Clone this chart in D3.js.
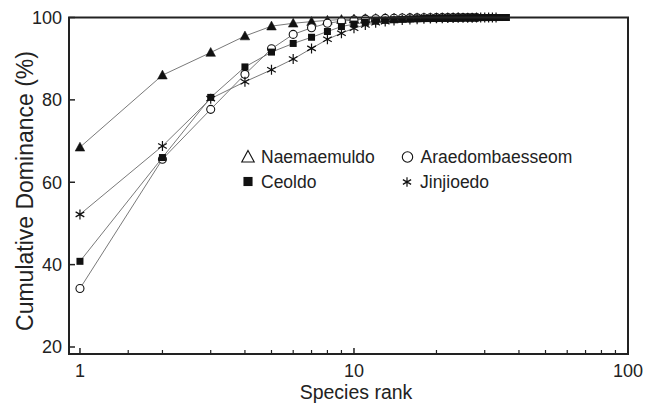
<!DOCTYPE html>
<html>
<head>
<meta charset="utf-8">
<script src="https://cdn.jsdelivr.net/npm/d3@7"></script>
<style>
  html, body { margin: 0; padding: 0; background: #fff; }
  svg { display: block; font-family: "Liberation Sans", Arial, sans-serif; }
</style>
</head>
<body>
<svg id="chart" width="654" height="408"></svg>
<script>
// ---- data ----
const seriesNames = ["Naemaemuldo", "Araedombaesseom", "Ceoldo", "Jinjioedo"];
const naemaemuldo = [68.5, 86.0, 91.5, 95.5, 97.9, 98.6, 99.0, 99.3, 99.5, 99.6, 99.7, 99.75, 99.8, 99.85, 99.88, 99.9, 99.92, 99.94, 99.95, 99.96, 99.97, 99.98, 99.99, 100];
const araedombaesseom = [34.2, 65.6, 77.7, 86.2, 92.4, 95.9, 97.5, 98.6, 99.1, 99.4, 99.6, 99.7, 99.78, 99.83, 99.87, 99.9, 99.92, 99.94, 99.95, 99.96, 99.97, 99.98, 99.985, 99.99, 99.993, 99.996, 99.998, 100];
const ceoldo = [40.8, 66.0, 80.6, 88.0, 91.6, 93.7, 95.2, 96.6, 97.8, 98.4, 98.8, 99.1, 99.3, 99.45, 99.55, 99.63, 99.7, 99.75, 99.8, 99.84, 99.87, 99.9, 99.92, 99.94, 99.95, 99.96, 99.97, 99.975, 99.98, 99.985, 99.99, 99.993, 99.995, 99.997, 99.999, 100];
const jinjioedo = [52.2, 68.8, 80.3, 84.4, 87.3, 89.9, 92.5, 94.7, 96.2, 97.4, 98.2, 98.7, 99.0, 99.25, 99.4, 99.5, 99.6, 99.68, 99.74, 99.8, 99.84, 99.87, 99.9, 99.92, 99.94, 99.95, 99.96, 99.97, 99.98, 99.985, 99.99, 99.995, 100];
const yTickValues = [20, 40, 60, 80, 100];
const xLabelValues = [1, 10, 100];
const xMinorTicks = [1.5, 2, 3, 4, 5, 6, 7, 8, 9, 20, 30, 40, 50, 60, 70, 80, 90];

// ---- layout ----
const svg = d3.select("#chart");
const L = 69, R = 628, T = 17.5, B = 354;
const x = d3.scaleLog().domain([0.912, 100]).range([L, R]);
const y = d3.scaleLinear().domain([18.3, 100]).range([B, T]);

const series = [
  { name: seriesNames[0], values: naemaemuldo, shape: "triangle" },
  { name: seriesNames[1], values: araedombaesseom, shape: "circle" },
  { name: seriesNames[2], values: ceoldo, shape: "square" },
  { name: seriesNames[3], values: jinjioedo, shape: "asterisk" }
];

const line = d3.line().x(d => x(d.r)).y(d => y(d.v));
const plot = svg.append("g");

// lines
series.forEach(s => {
  const pts = s.values.map((v, i) => ({ r: i + 1, v }));
  plot.append("path").datum(pts)
    .attr("d", line)
    .attr("fill", "none")
    .attr("stroke", "#6a6a6a")
    .attr("stroke-width", 0.9);
});

function drawMarker(g, shape, cx, cy, filled, k) {
  k = k || 1;
  if (shape === "triangle") {
    const s = 4.8 * k;
    g.append("path")
      .attr("d", `M${cx},${cy - s * 1.05} L${cx + s},${cy + s * 0.8} L${cx - s},${cy + s * 0.8} Z`)
      .attr("fill", filled ? "#111" : "#fff")
      .attr("stroke", "#111").attr("stroke-width", filled ? 0.5 : 1.1);
  } else if (shape === "circle") {
    g.append("circle").attr("cx", cx).attr("cy", cy).attr("r", 4 * k)
      .attr("fill", "#fff").attr("stroke", "#111").attr("stroke-width", 1.1);
  } else if (shape === "square") {
    const s = 3.5 * k;
    g.append("rect").attr("x", cx - s).attr("y", cy - s)
      .attr("width", 2 * s).attr("height", 2 * s).attr("fill", "#111");
  } else {
    const s = 5 * k;
    const a = s * Math.cos(Math.PI / 6), b = s * Math.sin(Math.PI / 6);
    g.append("path")
      .attr("d", `M${cx},${cy - s}L${cx},${cy + s}M${cx - a},${cy - b}L${cx + a},${cy + b}M${cx - a},${cy + b}L${cx + a},${cy - b}`)
      .attr("stroke", "#111").attr("stroke-width", 1.2).attr("fill", "none");
  }
}

// markers
series.forEach(s => {
  const g = plot.append("g");
  s.values.forEach((v, i) => {
    drawMarker(g, s.shape, x(i + 1), y(v), true, 1);
  });
});

// frame
svg.append("rect").attr("x", L).attr("y", T).attr("width", R - L).attr("height", B - T)
  .attr("fill", "none").attr("stroke", "#222").attr("stroke-width", 2);

// y ticks (inward)
const yAxis = svg.append("g");
yTickValues.forEach(t => {
  yAxis.append("line").attr("x1", L).attr("x2", L + 6).attr("y1", y(t)).attr("y2", y(t))
    .attr("stroke", "#222").attr("stroke-width", 1.5);
  yAxis.append("text").attr("x", L - 7).attr("y", y(t)).attr("dy", "0.36em")
    .attr("text-anchor", "end").attr("font-size", 18).attr("fill", "#222").text(t);
});

// x ticks (inward)
const xAxis = svg.append("g");
xLabelValues.forEach(t => {
  xAxis.append("line").attr("x1", x(t)).attr("x2", x(t)).attr("y1", B).attr("y2", B - 6)
    .attr("stroke", "#222").attr("stroke-width", 1.5);
  xAxis.append("text").attr("x", x(t)).attr("y", B + 23)
    .attr("text-anchor", "middle").attr("font-size", 18).attr("fill", "#222").text(t);
});
xMinorTicks.forEach(t => {
  xAxis.append("line").attr("x1", x(t)).attr("x2", x(t)).attr("y1", B).attr("y2", B - 4)
    .attr("stroke", "#222").attr("stroke-width", 1.2);
});

// axis titles
svg.append("text").attr("x", 356).attr("y", 399).attr("text-anchor", "middle")
  .attr("font-size", 19.5).attr("fill", "#222").text("Species rank");
svg.append("text").attr("transform", "translate(33,191) rotate(-90)")
  .attr("text-anchor", "middle").attr("font-size", 23).attr("fill", "#222")
  .text("Cumulative Dominance (%)");

// legend
const legend = svg.append("g");
const legendItems = [
  { name: seriesNames[0], shape: "triangle", filled: false, lx: 248, ly: 157 },
  { name: seriesNames[1], shape: "circle", filled: false, lx: 407.5, ly: 157 },
  { name: seriesNames[2], shape: "square", filled: true, lx: 248, ly: 181.5 },
  { name: seriesNames[3], shape: "asterisk", filled: true, lx: 407, ly: 182 }
];
legendItems.forEach(it => {
  drawMarker(legend, it.shape, it.lx, it.ly, it.filled, it.shape === "asterisk" ? 0.95 : 1.3);
  legend.append("text").attr("x", it.lx + 13).attr("y", it.ly).attr("dy", "0.36em")
    .attr("font-size", 17.5).attr("fill", "#222").text(it.name);
});
</script>
</body>
</html>
